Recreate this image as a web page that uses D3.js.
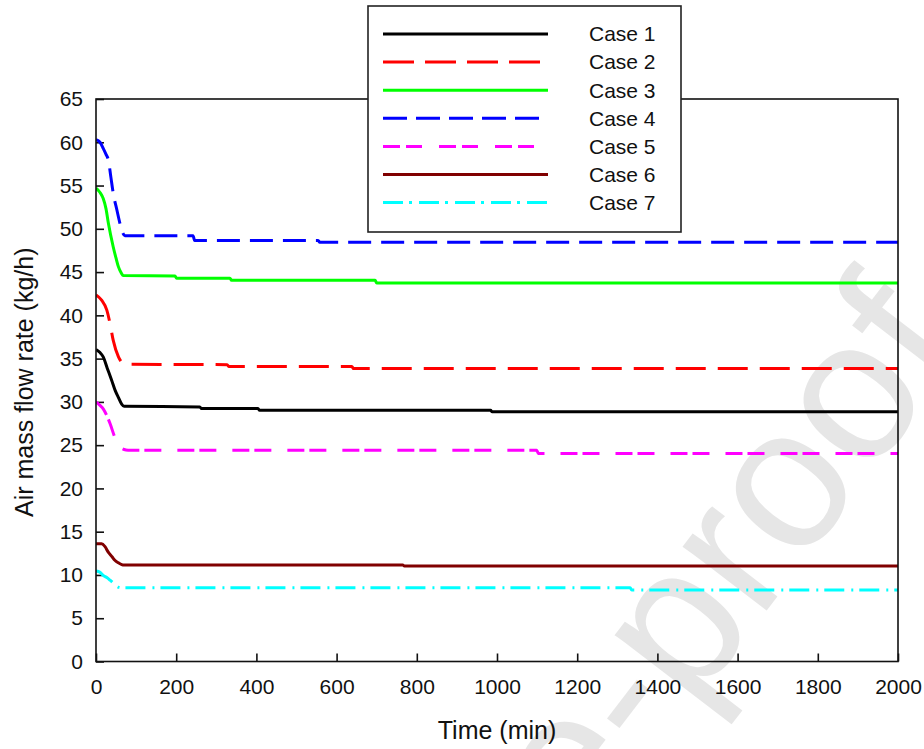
<!DOCTYPE html>
<html>
<head>
<meta charset="utf-8">
<script src="https://cdnjs.cloudflare.com/ajax/libs/d3/7.8.5/d3.min.js"></script>
<style>
    body { margin: 0; background: #fff; }
    svg { display: block; font-family: 'Liberation Sans', Arial, sans-serif; }
</style>
</head>
<body>
<svg id="chart"></svg>
<script>
const WIDTH = 924;
const HEIGHT = 749;
const MARGIN = { top: 99, right: 26, bottom: 87.5, left: 96 };

// [time (min), air mass flow rate (kg/h)]
const case1 = [[0, 36.05], [10, 35.7], [18, 35.2], [28, 33.9], [39, 32.5], [48, 31.3], [56, 30.5], [64, 29.75], [70, 29.5],
    [259, 29.42], [263, 29.23], [404, 29.23], [408, 29.03], [984, 29.03], [988, 28.85], [2000, 28.85]];
const case2 = [[0, 42.35], [14, 41.75], [27, 40.6], [35, 39.05], [43, 37.1], [56, 35.2], [66, 34.5], [72, 34.35],
    [327, 34.3], [331, 34.1], [638, 34.1], [642, 33.85], [2000, 33.85]];
const case3 = [[0, 54.7], [10, 54.2], [18, 53.5], [25, 52.3], [31, 50.6], [43, 47.9], [50, 46.6], [56, 45.6], [63, 44.9], [68, 44.6],
    [197, 44.55], [201, 44.3], [334, 44.3], [338, 44.05], [696, 44.05], [700, 43.75], [2000, 43.75]];
const case4 = [[0, 60.3], [10, 60.0], [18, 59.3], [25, 58.6], [31, 57.9], [37, 56.0], [43, 54.1], [52, 52.2], [61, 50.4], [67, 49.5], [72, 49.2],
    [242, 49.2], [246, 48.65], [554, 48.65], [558, 48.45], [2000, 48.45]];
const case5 = [[0, 30.0], [10, 29.6], [18, 29.2], [27, 28.4], [35, 27.5], [47, 25.9], [58, 24.9], [70, 24.5], [80, 24.42],
    [1099, 24.4], [1103, 24.05], [2000, 24.05]];
const case6 = [[0, 13.6], [14, 13.6], [22, 13.3], [31, 12.6], [40, 12.1], [47, 11.7], [56, 11.4], [64, 11.2], [70, 11.15],
    [765, 11.15], [769, 11.03], [2000, 11.03]];
const case7 = [[0, 10.45], [10, 10.3], [18, 9.95], [27, 9.7], [35, 9.4], [47, 8.9], [55, 8.6], [65, 8.52],
    [1332, 8.52], [1336, 8.26], [2000, 8.26]];

const caseNames = ['Case 1', 'Case 2', 'Case 3', 'Case 4', 'Case 5', 'Case 6', 'Case 7'];
const xTicks = [0, 200, 400, 600, 800, 1000, 1200, 1400, 1600, 1800, 2000];
const yTicks = [0, 5, 10, 15, 20, 25, 30, 35, 40, 45, 50, 55, 60, 65];

const STYLES = [
    { color: '#000000', dash: null, legendDash: null },
    { color: '#ff0000', dash: '30,12', legendDash: '31,11' },
    { color: '#00ff00', dash: null, legendDash: null },
    { color: '#0000ff', dash: '23,10', legendDash: '24,9' },
    { color: '#ff00ff', dash: '17,5,17,16', legendDash: '17,6,16,17' },
    { color: '#800000', dash: null, legendDash: null },
    { color: '#00ffff', dash: '20,7,2,6', legendDash: '20,6,3,7' },
];

const series = [case1, case2, case3, case4, case5, case6, case7];

const svg = d3.select('#chart')
    .attr('width', WIDTH)
    .attr('height', HEIGHT);

svg.append('rect')
    .attr('width', WIDTH)
    .attr('height', HEIGHT)
    .attr('fill', '#fff');

// journal watermark, mostly off the page
svg.append('text')
    .attr('transform', 'translate(968,348) rotate(-52.5)')
    .attr('text-anchor', 'end')
    .attr('font-size', 200)
    .attr('fill', '#e6e6e6')
    .text('Journal Pre-proof');

const x = d3.scaleLinear()
    .domain([0, 2000])
    .range([MARGIN.left, WIDTH - MARGIN.right]);

const y = d3.scaleLinear()
    .domain([0, 65])
    .range([HEIGHT - MARGIN.bottom, MARGIN.top]);

svg.append('defs').append('clipPath')
    .attr('id', 'plot-clip')
    .append('rect')
    .attr('x', x(0))
    .attr('y', y(65) - 5)
    .attr('width', x(2000) - x(0))
    .attr('height', y(0) - y(65) + 5);

const xAxis = svg.append('g')
    .attr('transform', `translate(0,${y(0)})`)
    .call(d3.axisBottom(x).tickValues(xTicks).tickSize(-8).tickPadding(18).tickFormat(d3.format('d')));

const yAxis = svg.append('g')
    .attr('transform', `translate(${x(0)},0)`)
    .call(d3.axisLeft(y).tickValues(yTicks).tickSize(-8).tickPadding(13).tickFormat(d3.format('d')));

[xAxis, yAxis].forEach(axis => {
    axis.select('.domain').remove();
    axis.selectAll('line').attr('stroke', '#111').attr('stroke-width', 1.6);
    axis.selectAll('text')
        .attr('fill', '#111')
        .attr('font-size', 21)
        .attr('font-family', "'Liberation Sans', Arial, sans-serif");
});

const line = d3.line()
    .x(d => x(d[0]))
    .y(d => y(d[1]))
    .curve(d3.curveMonotoneX);

svg.append('g')
    .attr('clip-path', 'url(#plot-clip)')
    .selectAll('path')
    .data(series)
    .enter().append('path')
    .attr('d', line)
    .attr('fill', 'none')
    .attr('stroke', (d, i) => STYLES[i].color)
    .attr('stroke-width', 3)
    .attr('stroke-dasharray', (d, i) => STYLES[i].dash);

// plot frame
svg.append('rect')
    .attr('x', x(0))
    .attr('y', y(65))
    .attr('width', x(2000) - x(0))
    .attr('height', y(0) - y(65))
    .attr('fill', 'none')
    .attr('stroke', '#111')
    .attr('stroke-width', 1.6);

// legend box sits on top of the frame
const legend = svg.append('g');
legend.append('rect')
    .attr('x', 368)
    .attr('y', 6)
    .attr('width', 313)
    .attr('height', 226)
    .attr('fill', '#fff')
    .attr('stroke', '#222')
    .attr('stroke-width', 1.6);

const rows = legend.selectAll('g.row')
    .data(caseNames)
    .enter().append('g')
    .attr('class', 'row')
    .attr('transform', (d, i) => `translate(0,${34 + i * 28.1})`);

rows.append('line')
    .attr('x1', 383)
    .attr('x2', 548)
    .attr('stroke', (d, i) => STYLES[i].color)
    .attr('stroke-width', 3)
    .attr('stroke-dasharray', (d, i) => STYLES[i].legendDash);

rows.append('text')
    .attr('x', 589)
    .attr('dy', '0.35em')
    .attr('font-size', 21)
    .attr('fill', '#111')
    .text(d => d);

svg.append('text')
    .attr('x', (x(0) + x(2000)) / 2)
    .attr('y', 739)
    .attr('text-anchor', 'middle')
    .attr('font-size', 25)
    .attr('fill', '#111')
    .text('Time (min)');

svg.append('text')
    .attr('transform', `translate(33,${(y(0) + y(65)) / 2 + 2}) rotate(-90)`)
    .attr('text-anchor', 'middle')
    .attr('font-size', 25)
    .attr('fill', '#111')
    .text('Air mass flow rate (kg/h)');
</script>
</body>
</html>
